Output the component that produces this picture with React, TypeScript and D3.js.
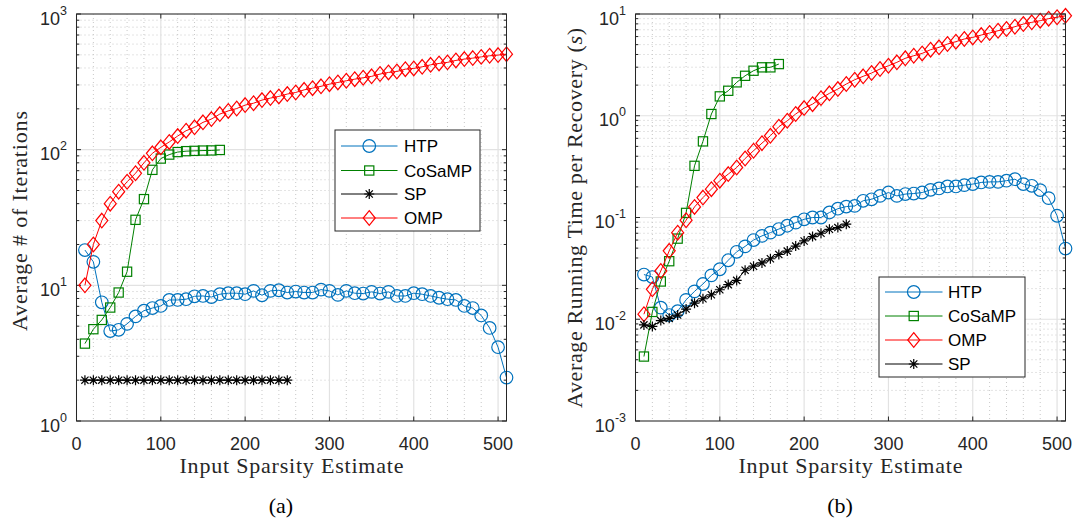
import React from 'react';
import * as d3 from 'd3';

// ---------- DATA ----------
const sparsity = [10, 20, 30, 40, 50, 60, 70, 80, 90, 100, 110, 120, 130, 140, 150, 160, 170, 180, 190, 200,
  210, 220, 230, 240, 250, 260, 270, 280, 290, 300, 310, 320, 330, 340, 350, 360, 370, 380, 390, 400,
  410, 420, 430, 440, 450, 460, 470, 480, 490, 500, 510];
const sparsityCoSaMP = [10, 20, 30, 40, 50, 60, 70, 80, 90, 100, 110, 120, 130, 140, 150, 160, 170];
const sparsitySP = [10, 20, 30, 40, 50, 60, 70, 80, 90, 100, 110, 120, 130, 140, 150, 160, 170, 180, 190, 200,
  210, 220, 230, 240, 250];

// (a) Average # of iterations
const iterHTP = [18.2, 14.9, 7.5, 4.6, 4.7, 5.2, 5.9, 6.5, 6.8, 7.05, 7.8, 7.8, 7.9, 8.3, 8.35, 8.2, 8.6, 8.75, 8.75, 8.6,
  9.1, 8.45, 9.1, 9.2, 8.85, 9.0, 8.85, 8.85, 9.3, 9.1, 8.5, 9.1, 8.75, 8.7, 8.95, 8.7, 8.95, 8.35, 8.35, 8.75,
  8.6, 8.35, 8.1, 7.9, 7.8, 7.05, 6.8, 6.0, 4.85, 3.5, 2.09];
const iterCoSaMP = [3.72, 4.75, 5.56, 6.86, 8.85, 12.6, 30.4, 43.2, 71, 86, 92, 96, 97.5, 98, 98.5, 98.7, 99.5];
const iterSP = [2, 2, 2, 2, 2, 2, 2, 2, 2, 2, 2, 2, 2, 2, 2, 2, 2, 2, 2, 2, 2, 2, 2, 2, 2];
const iterOMP = [10, 20, 30, 40, 49, 58, 67, 80, 94, 104, 114, 126, 138, 146, 159, 168, 183, 193, 201, 213,
  220, 232, 240, 247, 257, 264, 276, 284, 293, 304, 313, 322, 331, 339, 347, 361, 371, 377, 392, 397,
  408, 422, 432, 440, 455, 465, 473, 483, 492, 498, 506];

// (b) Average running time per recovery (s)
const timeHTP = [0.0275, 0.026, 0.013, 0.011, 0.012, 0.0155, 0.0188, 0.0222, 0.027, 0.031,
  0.038, 0.046, 0.052, 0.06, 0.066, 0.071, 0.077, 0.083, 0.089, 0.096,
  0.1, 0.1, 0.112, 0.122, 0.128, 0.13, 0.146, 0.151, 0.163, 0.176,
  0.163, 0.17, 0.172, 0.176, 0.187, 0.193, 0.202, 0.202, 0.208, 0.213,
  0.221, 0.224, 0.224, 0.23, 0.238, 0.213, 0.205, 0.186, 0.155, 0.104, 0.0495];
const timeCoSaMP = [0.0043, 0.0118, 0.0235, 0.0372, 0.062, 0.111, 0.322, 0.56, 1.04, 1.55, 1.76, 2.13, 2.47, 2.77, 2.99, 2.99, 3.22];
const timeOMP = [0.0112, 0.0197, 0.0298, 0.047, 0.071, 0.094, 0.127, 0.157, 0.19, 0.23,
  0.267, 0.31, 0.38, 0.453, 0.538, 0.636, 0.78, 0.893, 1.04, 1.19,
  1.3, 1.49, 1.66, 1.83, 2.05, 2.26, 2.44, 2.63, 2.88, 3.1,
  3.35, 3.67, 3.89, 4.1, 4.46, 4.7, 5.07, 5.35, 5.68, 5.89,
  6.21, 6.5, 6.85, 7.12, 7.5, 7.97, 8.28, 8.6, 9.0, 9.3, 9.6];
const timeSP = [0.0088, 0.0085, 0.0097, 0.0102, 0.011, 0.0126, 0.0144, 0.0159, 0.0174, 0.0195,
  0.0219, 0.0241, 0.0303, 0.0332, 0.0358, 0.0393, 0.0433, 0.0468, 0.0524, 0.0588,
  0.0649, 0.070, 0.0766, 0.0796, 0.086];

const xTicks = [0, 100, 200, 300, 400, 500];
const xMinorTicks = [20, 40, 60, 80, 120, 140, 160, 180, 220, 240, 260, 280, 320, 340, 360, 380, 420, 440, 460, 480, 500];
const leftExponents = [0, 1, 2, 3];
const rightExponents = [-3, -2, -1, 0, 1];
const xLimit = [0, 510];

const COLORS = { HTP: '#0072BD', CoSaMP: '#008000', SP: '#000000', OMP: '#FF0000' };
const MARKERS = { HTP: 'circle', CoSaMP: 'square', SP: 'asterisk', OMP: 'diamond' };

const AX = '#262626';
const SANS = '"Liberation Sans", Arial, Helvetica, sans-serif';
const SERIF = '"Liberation Serif", "Times New Roman", serif';

type Series = { name: string; xs: number[]; ys: number[] };

function Marker({ type, x, y, color }: { type: string; x: number; y: number; color: string }) {
  if (type === 'circle') return <circle cx={x} cy={y} r={6.3} fill="none" stroke={color} strokeWidth={1.2} />;
  if (type === 'square') return <rect x={x - 4.6} y={y - 4.6} width={9.2} height={9.2} fill="none" stroke={color} strokeWidth={1.2} />;
  if (type === 'diamond')
    return <path d={`M${x},${y - 7.3}L${x + 6},${y}L${x},${y + 7.3}L${x - 6},${y}Z`} fill="none" stroke={color} strokeWidth={1.2} />;
  const r = 5, d = 3.6;
  return (
    <path
      d={`M${x - r},${y}H${x + r}M${x},${y - r}V${y + r}M${x - d},${y - d}L${x + d},${y + d}M${x - d},${y + d}L${x + d},${y - d}`}
      stroke={color} strokeWidth={1.2} fill="none"
    />
  );
}

type PanelProps = {
  L: number; R: number; T: number; B: number;
  exponents: number[];
  series: Series[];
  legendOrder: string[];
  legendBox: { x0: number; x1: number; y0: number; y1: number; rows: number[]; lineX0: number; lineX1: number; textX: number };
  ylabel: React.ReactNode;
  ylabelX: number; ylabelY: number; ylabelLen: number;
  caption: string; captionX: number;
};

function Panel(p: PanelProps) {
  const x = d3.scaleLinear().domain(xLimit).range([p.L, p.R]);
  const lo = p.exponents[0], hi = p.exponents[p.exponents.length - 1];
  const y = d3.scaleLog().domain([Math.pow(10, lo), Math.pow(10, hi)]).range([p.B, p.T]);
  const minorY: number[] = [];
  for (let e = lo; e < hi; e++) for (let m = 2; m <= 9; m++) minorY.push(m * Math.pow(10, e));
  const line = d3.line<[number, number]>().x(d => x(d[0])).y(d => y(d[1]));
  const cx = (p.L + p.R) / 2;

  return (
    <g>
      {/* minor grid */}
      {xMinorTicks.filter(v => !xTicks.includes(v)).map(v => (
        <line key={'mx' + v} x1={x(v)} x2={x(v)} y1={p.T} y2={p.B} stroke="#c8c8c8" strokeWidth={1} strokeDasharray="1 3" />
      ))}
      {minorY.map(v => (
        <line key={'my' + v} x1={p.L} x2={p.R} y1={y(v)} y2={y(v)} stroke="#c8c8c8" strokeWidth={1} strokeDasharray="1 3" />
      ))}
      {/* major grid */}
      {xTicks.map(v => (
        <line key={'gx' + v} x1={x(v)} x2={x(v)} y1={p.T} y2={p.B} stroke="#e2e2e2" strokeWidth={1.2} />
      ))}
      {p.exponents.map(e => (
        <line key={'gy' + e} x1={p.L} x2={p.R} y1={y(Math.pow(10, e))} y2={y(Math.pow(10, e))} stroke="#e2e2e2" strokeWidth={1.2} />
      ))}
      {/* ticks */}
      {xTicks.map(v => (
        <g key={'tx' + v}>
          <line x1={x(v)} x2={x(v)} y1={p.B} y2={p.B - 4.5} stroke={AX} />
          <line x1={x(v)} x2={x(v)} y1={p.T} y2={p.T + 4.5} stroke={AX} />
          <text x={x(v)} y={p.B + 29} textAnchor="middle" fontFamily={SANS} fontSize={18} fill={AX}>{v}</text>
        </g>
      ))}
      {p.exponents.map(e => {
        const yy = y(Math.pow(10, e));
        return (
          <g key={'ty' + e}>
            <line x1={p.L} x2={p.L + 4.5} y1={yy} y2={yy} stroke={AX} />
            <line x1={p.R} x2={p.R - 4.5} y1={yy} y2={yy} stroke={AX} />
            <text x={p.L - 9.5} y={yy + 10.5} textAnchor="end" fontFamily={SANS} fontSize={18} fill={AX}>
              10<tspan dy={-10} fontSize={12.5}>{String(e)}</tspan>
            </text>
          </g>
        );
      })}
      {minorY.map(v => (
        <g key={'tmy' + v}>
          <line x1={p.L} x2={p.L + 2.8} y1={y(v)} y2={y(v)} stroke={AX} />
          <line x1={p.R} x2={p.R - 2.8} y1={y(v)} y2={y(v)} stroke={AX} />
        </g>
      ))}
      {/* series */}
      {p.series.map(s => {
        const pts = s.xs.map((xv, i) => [xv, s.ys[i]] as [number, number]);
        const color = (COLORS as any)[s.name];
        const mk = (MARKERS as any)[s.name];
        return (
          <g key={s.name}>
            <path d={line(pts) || ''} fill="none" stroke={color} strokeWidth={1} />
            {pts.map((d, i) => <Marker key={i} type={mk} x={x(d[0])} y={y(d[1])} color={color} />)}
          </g>
        );
      })}
      {/* axes box */}
      <rect x={p.L} y={p.T} width={p.R - p.L} height={p.B - p.T} fill="none" stroke={AX} strokeWidth={1} />
      {/* legend */}
      <rect x={p.legendBox.x0} y={p.legendBox.y0} width={p.legendBox.x1 - p.legendBox.x0} height={p.legendBox.y1 - p.legendBox.y0}
        fill="#ffffff" stroke={AX} strokeWidth={1} />
      {p.legendOrder.map((name, i) => {
        const ry = p.legendBox.rows[i];
        const color = (COLORS as any)[name];
        return (
          <g key={'lg' + name}>
            <line x1={p.legendBox.lineX0} x2={p.legendBox.lineX1} y1={ry} y2={ry} stroke={color} strokeWidth={1} />
            <Marker type={(MARKERS as any)[name]} x={(p.legendBox.lineX0 + p.legendBox.lineX1) / 2} y={ry} color={color} />
            <text x={p.legendBox.textX} y={ry + 6} fontFamily={SANS} fontSize={17} fill="#000">{name}</text>
          </g>
        );
      })}
      {/* labels */}
      <text x={cx} y={p.B + 52} textAnchor="middle" fontFamily={SERIF} fontSize={22} fill={AX}
        textLength={224} lengthAdjust="spacing">Input Sparsity Estimate</text>
      <text transform={`translate(${p.ylabelX},${p.ylabelY}) rotate(-90)`} textAnchor="middle" fontFamily={SERIF} fontSize={22}
        fill={AX} textLength={p.ylabelLen} lengthAdjust="spacing">{p.ylabel}</text>
      <text x={p.captionX} y={513} textAnchor="middle" fontFamily={SERIF} fontSize={22} fill="#000">{p.caption}</text>
    </g>
  );
}

export default function App() {
  const leftSeries: Series[] = [
    { name: 'HTP', xs: sparsity, ys: iterHTP },
    { name: 'CoSaMP', xs: sparsityCoSaMP, ys: iterCoSaMP },
    { name: 'SP', xs: sparsitySP, ys: iterSP },
    { name: 'OMP', xs: sparsity, ys: iterOMP },
  ];
  const rightSeries: Series[] = [
    { name: 'HTP', xs: sparsity, ys: timeHTP },
    { name: 'CoSaMP', xs: sparsityCoSaMP, ys: timeCoSaMP },
    { name: 'OMP', xs: sparsity, ys: timeOMP },
    { name: 'SP', xs: sparsitySP, ys: timeSP },
  ];
  return (
    <svg width={1077} height={521} style={{ position: 'absolute', left: 0, top: 0, background: '#fff' }}>
      <rect x={0} y={0} width={1077} height={521} fill="#fff" />
      <Panel
        L={76.5} R={506.5} T={14} B={421}
        exponents={leftExponents}
        series={leftSeries}
        legendOrder={['HTP', 'CoSaMP', 'SP', 'OMP']}
        legendBox={{ x0: 335, x1: 480, y0: 130, y1: 231, rows: [146, 170.5, 194, 218], lineX0: 341, lineX1: 397.5, textX: 404 }}
        ylabel="Average # of Iterations"
        ylabelX={27} ylabelY={221} ylabelLen={220}
        caption="(a)" captionX={281}
      />
      <Panel
        L={635.5} R={1065.5} T={14} B={421}
        exponents={rightExponents}
        series={rightSeries}
        legendOrder={['HTP', 'CoSaMP', 'OMP', 'SP']}
        legendBox={{ x0: 879, x1: 1025, y0: 277, y1: 377, rows: [292, 316, 340, 364], lineX0: 885, lineX1: 942.5, textX: 948 }}
        ylabel={<>Average Running Time per Recovery (<tspan fontStyle="italic">s</tspan>)</>}
        ylabelX={582} ylabelY={218} ylabelLen={380}
        caption="(b)" captionX={840}
      />
    </svg>
  );
}
